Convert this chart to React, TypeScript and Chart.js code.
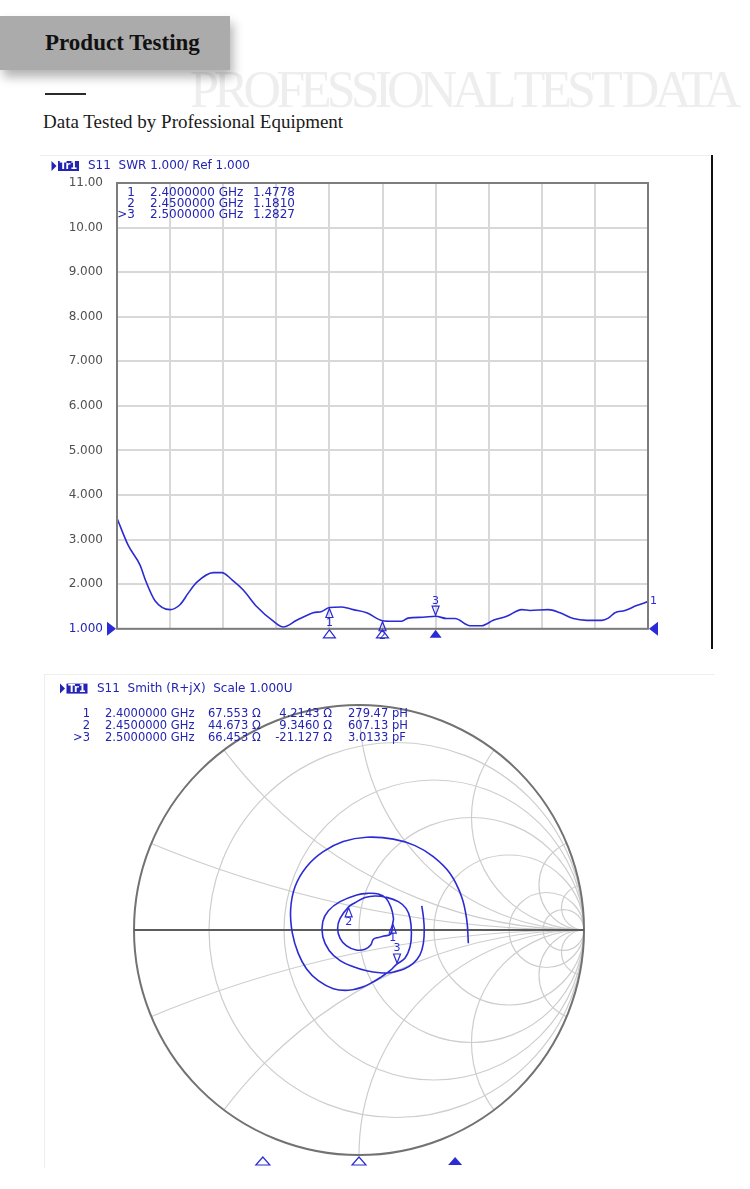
import React, { useEffect, useRef } from "react";
import { Chart, registerables } from "chart.js";

Chart.register(...registerables);

// ---------------- SWR trace ----------------
const swrFreqGHz = [
  2.2, 2.2106, 2.2217, 2.2273, 2.2358, 2.25, 2.2593, 2.2671, 2.275, 2.2907, 2.2986,
  2.3083, 2.3189, 2.3315, 2.3472, 2.3566, 2.3692, 2.3848, 2.3927, 2.4, 2.4116, 2.4225,
  2.4351, 2.45, 2.4599, 2.4681, 2.474, 2.4881, 2.5, 2.5104, 2.5183, 2.5324, 2.5434,
  2.5543, 2.5669, 2.5811, 2.5889, 2.6061, 2.6171, 2.6297, 2.6423, 2.6564, 2.6626,
  2.6689, 2.6783, 2.6893, 2.7,
];
const swrValues = [
  3.48, 2.87, 2.43, 2.06, 1.63, 1.43, 1.54, 1.8, 2.04, 2.26, 2.26,
  2.1, 1.87, 1.5, 1.17, 1.04, 1.19, 1.36, 1.39, 1.478, 1.49, 1.43,
  1.36, 1.181, 1.17, 1.17, 1.24, 1.26, 1.283, 1.23, 1.23, 1.07, 1.07,
  1.19, 1.28, 1.43, 1.41, 1.43, 1.36, 1.23, 1.19, 1.19, 1.24,
  1.36, 1.41, 1.52, 1.61,
];
const swrGridFreqGHz = [2.2, 2.25, 2.3, 2.35, 2.4, 2.45, 2.5, 2.55, 2.6, 2.65, 2.7];
const swrTickValues = [1, 2, 3, 4, 5, 6, 7, 8, 9, 10, 11];

// ---------------- markers ----------------
const markerLabels = ["1", "2", ">3"];
const markerIds = ["1", "2", "3"];
const markerFreqGHz = [2.4, 2.45, 2.5];
const markerFreqText = ["2.4000000 GHz", "2.4500000 GHz", "2.5000000 GHz"];
const markerSwrValues = [1.4778, 1.181, 1.2827];
const markerSwrText = ["1.4778", "1.1810", "1.2827"];
const markerResText = ["67.553 Ω", "44.673 Ω", "66.453 Ω"];
const markerReactText = ["4.2143 Ω", "9.3460 Ω", "-21.127 Ω"];
const markerLcText = ["279.47 pH", "607.13 pH", "3.0133 pF"];
const markerGammaRe = [0.15, -0.046, 0.169];
const markerGammaIm = [0.031, 0.103, -0.151];
const activeMarkerIndex = 2;

// ---------------- Smith trace (reflection coefficient) ----------------
const smithGammaRe = [
  0.279, 0.286, 0.29, 0.286, 0.271, 0.241, 0.2, 0.16, 0.138, 0.093, 0.034, -0.025, -0.084,
  -0.132, -0.161, -0.161, -0.136, -0.084, -0.01, 0.041, 0.086, 0.12, 0.142, 0.153, 0.15,
  0.141, 0.111, 0.086, 0.064, 0.052, 0.027, -0.013, -0.055, -0.084, -0.095, -0.084, -0.046,
  -0.018, 0.027, 0.071, 0.123, 0.175, 0.209, 0.227, 0.233, 0.227, 0.204, 0.169, 0.138,
  0.101, 0.064, 0.012, -0.047, -0.114, -0.181, -0.233, -0.27, -0.296, -0.304, -0.284,
  -0.233, -0.159, -0.07, 0.034, 0.153, 0.249, 0.33, 0.404, 0.456, 0.479, 0.486,
];
const smithGammaIm = [
  0.107, 0.059, 0.0, -0.059, -0.111, -0.148, -0.173, -0.185, -0.19, -0.19, -0.181, -0.163,
  -0.136, -0.092, -0.03, 0.037, 0.086, 0.126, 0.156, 0.163, 0.16, 0.141, 0.101, 0.052,
  0.031, -0.018, -0.027, -0.033, -0.041, -0.067, -0.086, -0.089, -0.071, -0.037, 0.007,
  0.052, 0.103, 0.121, 0.144, 0.151, 0.145, 0.126, 0.096, 0.052, -0.015, -0.074, -0.126,
  -0.151, -0.181, -0.207, -0.23, -0.255, -0.268, -0.261, -0.225, -0.173, -0.104, -0.015,
  0.089, 0.193, 0.281, 0.348, 0.393, 0.412, 0.404, 0.375, 0.326, 0.252, 0.148, 0.044,
  -0.059,
];
const smithResistanceCircles = [0.2, 0.5, 1, 2, 5, 10];
const smithReactanceArcs = [0.2, 0.5, 1, 2, 5, 10];
const smithStimulusStartGHz = 2.333;
const smithStimulusStopGHz = 2.567;

// ---------------- styles ----------------
const TEXT_BLUE = "#2323b4";
const TRACE_BLUE = "#2b2bd4";
const INSTR_FONT = '"DejaVu Sans", Verdana, sans-serif';
const SERIF = '"Liberation Serif", "Times New Roman", serif';

function drawTraceTag(ctx: CanvasRenderingContext2D, x: number, cy: number) {
  ctx.fillStyle = TEXT_BLUE;
  ctx.beginPath();
  ctx.moveTo(x, cy - 5);
  ctx.lineTo(x + 5, cy);
  ctx.lineTo(x, cy + 5);
  ctx.closePath();
  ctx.fill();
  ctx.fillRect(x + 6.5, cy - 5, 21, 10);
  ctx.fillStyle = "#ffffff";
  ctx.font = `bold 10px ${INSTR_FONT}`;
  ctx.textAlign = "center";
  ctx.textBaseline = "middle";
  ctx.fillText("Tr1", x + 17, cy + 0.5);
}

function triangle(
  ctx: CanvasRenderingContext2D,
  x: number,
  tipY: number,
  up: boolean,
  hw: number,
  h: number,
  filled: boolean
) {
  const baseY = up ? tipY + h : tipY - h;
  ctx.beginPath();
  ctx.moveTo(x, tipY);
  ctx.lineTo(x - hw, baseY);
  ctx.lineTo(x + hw, baseY);
  ctx.closePath();
  if (filled) ctx.fill();
  else ctx.stroke();
}

const swrPlugin = {
  id: "swrDecor",
  afterDraw(chart: any) {
    const { ctx, chartArea: a, scales } = chart;
    const xs = scales.x;
    const ys = scales.y;
    ctx.save();
    // frame
    ctx.strokeStyle = "#7d7d7d";
    ctx.lineWidth = 2;
    ctx.strokeRect(a.left, a.top, a.right - a.left, a.bottom - a.top);

    // reference level triangles
    const yRef = ys.getPixelForValue(1);
    ctx.fillStyle = TRACE_BLUE;
    ctx.beginPath();
    ctx.moveTo(a.left - 1, yRef);
    ctx.lineTo(a.left - 10, yRef - 7);
    ctx.lineTo(a.left - 10, yRef + 7);
    ctx.closePath();
    ctx.fill();
    ctx.beginPath();
    ctx.moveTo(a.right + 1, yRef);
    ctx.lineTo(a.right + 10, yRef - 7);
    ctx.lineTo(a.right + 10, yRef + 7);
    ctx.closePath();
    ctx.fill();

    // markers
    ctx.strokeStyle = TRACE_BLUE;
    ctx.fillStyle = TRACE_BLUE;
    ctx.lineWidth = 1.2;
    ctx.font = `11px ${INSTR_FONT}`;
    ctx.textAlign = "center";
    markerFreqGHz.forEach((f, i) => {
      const px = xs.getPixelForValue(f);
      const py = ys.getPixelForValue(markerSwrValues[i]);
      const active = i === activeMarkerIndex;
      if (active) {
        triangle(ctx, px, py - 1, false, 3.5, 9, false);
        ctx.textBaseline = "bottom";
        ctx.fillText(markerIds[i], px, py - 10);
      } else {
        triangle(ctx, px, py + 1, true, 3.5, 9, false);
        ctx.textBaseline = "top";
        ctx.fillText(markerIds[i], px, py + 10);
      }
      triangle(ctx, px, a.bottom + 1, true, 6, 8, active);
    });

    // trace number at the end of the trace
    const lastX = xs.getPixelForValue(swrFreqGHz[swrFreqGHz.length - 1]);
    const lastY = ys.getPixelForValue(swrValues[swrValues.length - 1]);
    ctx.textAlign = "left";
    ctx.textBaseline = "middle";
    ctx.fillText("1", lastX + 2, lastY);

    // header
    drawTraceTag(ctx, a.left - 65.5, 16);
    ctx.fillStyle = TEXT_BLUE;
    ctx.font = `12px ${INSTR_FONT}`;
    ctx.textAlign = "left";
    ctx.textBaseline = "middle";
    ctx.fillText("S11  SWR 1.000/ Ref 1.000", a.left - 29, 16);

    // marker table
    const rowY = [a.top + 9.5, a.top + 20.8, a.top + 32.2];
    markerLabels.forEach((lab, i) => {
      ctx.textAlign = "right";
      ctx.fillText(lab, a.left + 18, rowY[i]);
      ctx.textAlign = "left";
      ctx.fillText(markerFreqText[i], a.left + 33, rowY[i]);
      ctx.fillText(markerSwrText[i], a.left + 136, rowY[i]);
    });
    ctx.restore();
  },
};

const smithPlugin = {
  id: "smithDecor",
  beforeDatasetsDraw(chart: any) {
    const { ctx, scales } = chart;
    const xs = scales.x;
    const ys = scales.y;
    const cx = xs.getPixelForValue(0);
    const cy = ys.getPixelForValue(0);
    const R = xs.getPixelForValue(1) - cx;
    const Ry = cy - ys.getPixelForValue(1);
    ctx.save();
    ctx.beginPath();
    ctx.ellipse(cx, cy, R, Ry, 0, 0, Math.PI * 2);
    ctx.clip();
    ctx.strokeStyle = "#cdcdcd";
    ctx.lineWidth = 1.2;
    smithResistanceCircles.forEach((r) => {
      const gx = r / (1 + r);
      const rad = 1 / (1 + r);
      ctx.beginPath();
      ctx.ellipse(xs.getPixelForValue(gx), cy, rad * R, rad * Ry, 0, 0, Math.PI * 2);
      ctx.stroke();
    });
    smithReactanceArcs.forEach((xv) => {
      [1, -1].forEach((s) => {
        ctx.beginPath();
        ctx.ellipse(
          xs.getPixelForValue(1),
          ys.getPixelForValue(s / xv),
          R / xv,
          Ry / xv,
          0,
          0,
          Math.PI * 2
        );
        ctx.stroke();
      });
    });
    ctx.restore();
    ctx.save();
    ctx.strokeStyle = "#727272";
    ctx.lineWidth = 2;
    ctx.beginPath();
    ctx.ellipse(cx, cy, R, Ry, 0, 0, Math.PI * 2);
    ctx.stroke();
    ctx.strokeStyle = "#5c5c5c";
    ctx.beginPath();
    ctx.moveTo(cx - R, cy);
    ctx.lineTo(cx + R, cy);
    ctx.stroke();
    ctx.restore();
  },
  afterDatasetsDraw(chart: any) {
    const { ctx, chartArea: a, scales } = chart;
    const xs = scales.x;
    const ys = scales.y;
    ctx.save();
    ctx.strokeStyle = TRACE_BLUE;
    ctx.fillStyle = TRACE_BLUE;
    ctx.lineWidth = 1.2;
    ctx.font = `11px ${INSTR_FONT}`;
    ctx.textAlign = "center";
    const half = (smithStimulusStopGHz - smithStimulusStartGHz) / 2;
    const mid = (smithStimulusStopGHz + smithStimulusStartGHz) / 2;
    markerGammaRe.forEach((gr, i) => {
      const px = xs.getPixelForValue(gr);
      const py = ys.getPixelForValue(markerGammaIm[i]);
      const active = i === activeMarkerIndex;
      if (active) {
        triangle(ctx, px, py - 1, false, 3.5, 9, false);
        ctx.textBaseline = "bottom";
        ctx.fillText(markerIds[i], px, py - 10);
      } else {
        triangle(ctx, px, py + 1, true, 3.5, 9, false);
        ctx.textBaseline = "top";
        ctx.fillText(markerIds[i], px, py + 10);
      }
      const sx = xs.getPixelForValue((markerFreqGHz[i] - mid) / half);
      triangle(ctx, sx, a.bottom + 2, true, 7, 8, active);
    });

    // header
    drawTraceTag(ctx, a.left - 74, 23.6);
    ctx.fillStyle = TEXT_BLUE;
    ctx.font = `12px ${INSTR_FONT}`;
    ctx.textAlign = "left";
    ctx.textBaseline = "middle";
    ctx.fillText("S11  Smith (R+jX)  Scale 1.000U", a.left - 37, 23.6);

    ctx.font = `11.5px ${INSTR_FONT}`;
    const rowY = [49, 61, 73];
    markerLabels.forEach((lab, i) => {
      ctx.textAlign = "right";
      ctx.fillText(lab, a.left - 44, rowY[i]);
      ctx.textAlign = "left";
      ctx.fillText(markerFreqText[i], a.left - 29, rowY[i]);
      ctx.fillText(markerResText[i], a.left + 74, rowY[i]);
      ctx.textAlign = "right";
      ctx.fillText(markerReactText[i], a.left + 198, rowY[i]);
      ctx.textAlign = "left";
      ctx.fillText(markerLcText[i], a.left + 214, rowY[i]);
    });
    ctx.restore();
  },
};

function swrConfig(): any {
  return {
    type: "line",
    data: {
      datasets: [
        {
          data: swrFreqGHz.map((f, i) => ({ x: f, y: swrValues[i] })),
          borderColor: TRACE_BLUE,
          borderWidth: 1.6,
          pointRadius: 0,
          cubicInterpolationMode: "monotone",
          fill: false,
        },
      ],
    },
    options: {
      responsive: false,
      animation: false,
      devicePixelRatio: 1,
      events: [],
      layout: { padding: { left: 0, right: 67, top: 33, bottom: 16 } },
      plugins: { legend: { display: false }, tooltip: { enabled: false } },
      scales: {
        x: {
          type: "linear",
          min: 2.2,
          max: 2.7,
          afterBuildTicks: (s: any) => {
            s.ticks = swrGridFreqGHz.map((v) => ({ value: v }));
          },
          afterFit: (s: any) => {
            s.height = 0;
          },
          ticks: { display: false },
          grid: { color: "#d8d8d8", lineWidth: 2, drawTicks: false },
          border: { display: false },
        },
        y: {
          type: "linear",
          min: 1,
          max: 11,
          afterBuildTicks: (s: any) => {
            s.ticks = swrTickValues.map((v) => ({ value: v }));
          },
          afterFit: (s: any) => {
            s.width = 77;
          },
          ticks: {
            padding: 14,
            font: { family: INSTR_FONT, size: 12 },
            color: (c: any) => (c.tick && c.tick.value === 1 ? TEXT_BLUE : "#505050"),
            callback: (v: any) => {
              const n = Number(v);
              return n >= 10 ? n.toFixed(2) : n.toFixed(3);
            },
          },
          grid: { color: "#d8d8d8", lineWidth: 2, drawTicks: false },
          border: { display: false },
        },
      },
    },
    plugins: [swrPlugin],
  };
}

function smithConfig(): any {
  return {
    type: "scatter",
    data: {
      datasets: [
        {
          data: smithGammaRe.map((g, i) => ({ x: g, y: smithGammaIm[i] })),
          showLine: true,
          borderColor: TRACE_BLUE,
          borderWidth: 1.6,
          pointRadius: 0,
          tension: 0.4,
          fill: false,
        },
      ],
    },
    options: {
      responsive: false,
      animation: false,
      devicePixelRatio: 1,
      events: [],
      layout: { padding: { left: 94, right: 131, top: 40, bottom: 34 } },
      plugins: { legend: { display: false }, tooltip: { enabled: false } },
      scales: {
        x: { type: "linear", min: -1, max: 1, display: false },
        y: { type: "linear", min: -1, max: 1, display: false },
      },
    },
    plugins: [smithPlugin],
  };
}

export default function App() {
  const swrRef = useRef<HTMLCanvasElement>(null);
  const smithRef = useRef<HTMLCanvasElement>(null);

  useEffect(() => {
    const c1 = new Chart(swrRef.current as HTMLCanvasElement, swrConfig());
    const c2 = new Chart(smithRef.current as HTMLCanvasElement, smithConfig());
    return () => {
      c1.destroy();
      c2.destroy();
    };
  }, []);

  const abs = (o: React.CSSProperties): React.CSSProperties => ({ position: "absolute", ...o });

  return (
    <div style={abs({ left: 0, top: 0, width: 750, height: 1189, background: "#ffffff", overflow: "hidden" })}>
      {/* watermark */}
      <div
        style={abs({
          left: 190,
          top: 64,
          fontFamily: SERIF,
          fontSize: 52,
          lineHeight: "52px",
          letterSpacing: "-5px",
          wordSpacing: "-3px",
          color: "#eeeeee",
          whiteSpace: "nowrap",
        })}
      >
        PROFESSIONAL TEST DATA
      </div>
      {/* title box */}
      <div
        style={abs({
          left: 0,
          top: 16,
          width: 230,
          height: 54,
          background: "#ababab",
          boxShadow: "3px 7px 10px rgba(0,0,0,0.3)",
        })}
      />
      <div
        style={abs({
          left: 45,
          top: 31,
          fontFamily: SERIF,
          fontWeight: "bold",
          fontSize: 23,
          lineHeight: "23px",
          color: "#111111",
          whiteSpace: "nowrap",
        })}
      >
        Product Testing
      </div>
      <div style={abs({ left: 45, top: 93, width: 41, height: 2, background: "#2a2a2a" })} />
      <div
        style={abs({
          left: 43,
          top: 112,
          fontFamily: SERIF,
          fontSize: 19,
          lineHeight: "19px",
          color: "#1a1a1a",
          whiteSpace: "nowrap",
        })}
      >
        Data Tested by Professional Equipment
      </div>

      {/* SWR panel frame */}
      <div style={abs({ left: 40, top: 155, width: 670, height: 1, background: "#eeeeee" })} />
      <div style={abs({ left: 711, top: 155, width: 2, height: 494, background: "#111111" })} />
      <canvas ref={swrRef} width={675} height={500} style={abs({ left: 40, top: 150, width: 675, height: 500 })} />

      {/* Smith panel frame */}
      <div style={abs({ left: 44, top: 674, width: 671, height: 1, background: "#eeeeee" })} />
      <div style={abs({ left: 44, top: 674, width: 1, height: 494, background: "#eeeeee" })} />
      <canvas ref={smithRef} width={675} height={524} style={abs({ left: 40, top: 665, width: 675, height: 524 })} />
    </div>
  );
}
